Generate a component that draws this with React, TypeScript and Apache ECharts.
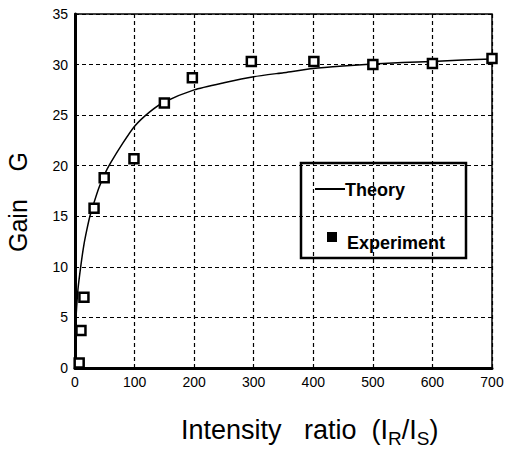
import React, { useEffect, useRef } from "react";
import * as echarts from "echarts";

const xTicks = [0, 100, 200, 300, 400, 500, 600, 700];
const yTicks = [0, 5, 10, 15, 20, 25, 30, 35];

const theoryX = [0, 1, 2, 5, 10, 15, 20, 25, 30, 40, 50, 60, 80, 100, 125, 150, 200, 250, 300, 350, 400, 450, 500, 550, 600, 650, 700];
const theoryG = [1, 4, 5.3, 7.8, 10.2, 12.2, 13.7, 15, 16, 17.8, 19.2, 20.3, 22.2, 23.9, 25.3, 26.3, 27.5, 28.2, 28.8, 29.2, 29.6, 29.85, 30.05, 30.2, 30.3, 30.45, 30.55];

const expX = [7, 10, 15, 32, 49, 99, 150, 197, 296, 401, 500, 600, 700];
const expG = [0.5, 3.7, 7.0, 15.8, 18.8, 20.7, 26.2, 28.7, 30.3, 30.3, 30.0, 30.1, 30.6];

const FONT = "Arial, 'Liberation Sans', Helvetica, sans-serif";

export default function App() {
  const ref = useRef<HTMLDivElement>(null);
  useEffect(() => {
    if (!ref.current) return;
    const chart = echarts.init(ref.current, undefined, { renderer: "svg" });
    const theory = theoryX.map((x, i) => [x, theoryG[i]]);
    const exp = expX.map((x, i) => [x, expG[i]]);
    chart.setOption({
      animation: false,
      backgroundColor: "#fff",
      grid: {
        left: 75,
        right: 16,
        top: 14,
        bottom: 84,
        show: true,
        borderColor: "#000",
        borderWidth: 1.5,
        backgroundColor: "transparent",
      },
      xAxis: {
        type: "value",
        min: xTicks[0],
        max: xTicks[xTicks.length - 1],
        interval: 100,
        axisLine: { show: true, lineStyle: { color: "#000", width: 3 } },
        axisTick: { show: false },
        axisLabel: { color: "#000", fontSize: 14, fontFamily: FONT, margin: 7 },
        splitLine: { show: true, lineStyle: { color: "#000", width: 1.2, type: [4, 3] } },
      },
      yAxis: {
        type: "value",
        min: yTicks[0],
        max: yTicks[yTicks.length - 1],
        interval: 5,
        axisLine: { show: true, lineStyle: { color: "#000", width: 3 } },
        axisTick: { show: false },
        axisLabel: { color: "#000", fontSize: 14, fontFamily: FONT, margin: 7 },
        splitLine: { show: true, lineStyle: { color: "#000", width: 1.2, type: [4, 3] } },
      },
      series: [
        {
          name: "Theory",
          type: "line",
          data: theory,
          showSymbol: false,
          smooth: 0.2,
          lineStyle: { color: "#000", width: 1.5 },
          z: 3,
        },
        {
          name: "Experiment",
          type: "scatter",
          data: exp,
          symbol: "rect",
          symbolSize: 9,
          itemStyle: { color: "#fff", borderColor: "#000", borderWidth: 2.5, opacity: 1 },
          z: 4,
        },
      ],
      graphic: [
        {
          type: "rect",
          shape: { x: 301, y: 163, width: 165, height: 95 },
          style: { fill: "none", stroke: "#000", lineWidth: 2.5 },
          z: 10,
        },
        {
          type: "line",
          shape: { x1: 315, y1: 189, x2: 345, y2: 189 },
          style: { stroke: "#000", lineWidth: 2 },
          z: 10,
        },
        {
          type: "text",
          x: 345,
          y: 190,
          style: {
            text: "Theory",
            fontSize: 18,
            fontWeight: "bold",
            fontFamily: FONT,
            fill: "#000",
            align: "left",
            verticalAlign: "middle",
          },
          z: 10,
        },
        {
          type: "rect",
          shape: { x: 327, y: 232, width: 10, height: 10 },
          style: { fill: "#000" },
          z: 10,
        },
        {
          type: "text",
          x: 347,
          y: 243,
          style: {
            text: "Experiment",
            fontSize: 18,
            fontWeight: "bold",
            fontFamily: FONT,
            fill: "#000",
            align: "left",
            verticalAlign: "middle",
          },
          z: 10,
        },
        {
          type: "text",
          x: 18,
          y: 202,
          rotation: Math.PI / 2,
          style: {
            text: "Gain    G",
            fontSize: 25,
            fontFamily: FONT,
            fill: "#000",
            align: "center",
            verticalAlign: "middle",
          },
          z: 10,
        },
        {
          type: "text",
          x: 181,
          y: 430,
          style: {
            text: "{a|Intensity   ratio  (I}{s|R}{a|/I}{s|S}{a|)}",
            fill: "#000",
            align: "left",
            verticalAlign: "middle",
            rich: {
              a: { fontSize: 27, fontFamily: FONT, lineHeight: 36, fill: "#000" },
              s: { fontSize: 19, fontFamily: FONT, lineHeight: 18, verticalAlign: "bottom", fill: "#000" },
            },
          },
          z: 10,
        },
      ],
    });
    return () => chart.dispose();
  }, []);
  return <div ref={ref} style={{ width: 508, height: 452, position: "absolute", left: 0, top: 0 }} />;
}
